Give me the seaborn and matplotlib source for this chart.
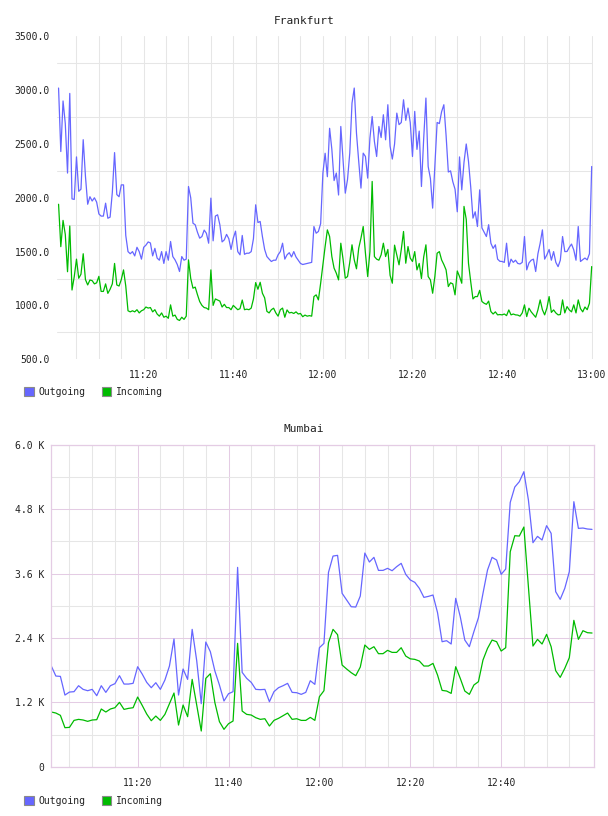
import matplotlib
matplotlib.use('Agg')
import numpy as np
import pandas as pd
import seaborn as sns
import matplotlib.pyplot as plt
import matplotlib.dates as mdates
from matplotlib.patches import Patch
from matplotlib.ticker import FixedLocator, FuncFormatter

# Frankfurt: one sample every 30 s, 11:01:00 -> 13:00:00
FRA_START = '2024-01-01 11:01:00'
fra_outgoing = [
    3020, 2430, 2900, 2690, 2230, 2970, 1990, 1985, 2380, 2060,
    2080, 2540, 2200, 1940, 2010, 1970, 2000, 1960, 1850, 1830,
    1830, 1950, 1810, 1820, 2050, 2420, 2030, 2010, 2120, 2120,
    1650, 1500, 1480, 1500, 1460, 1540, 1500, 1430, 1540, 1560,
    1590, 1580, 1460, 1530, 1440, 1420, 1500, 1390,
    1500, 1420, 1594, 1454, 1423, 1380, 1315, 1454, 1420, 1430,
    2105, 2000, 1764, 1749, 1680, 1625, 1640, 1700, 1670, 1578,
    1997, 1600, 1830, 1842, 1750, 1590, 1609, 1660, 1620, 1520,
    1625, 1690, 1500, 1470, 1650, 1475, 1485, 1485, 1500, 1620,
    1935, 1770, 1780, 1640, 1520, 1454, 1430, 1408,
    1420, 1420, 1470, 1500, 1578, 1430, 1470, 1490, 1450, 1500,
    1450, 1420, 1390, 1380, 1385, 1390, 1395, 1400, 1733, 1671,
    1687, 1760, 2228, 2414, 2196, 2646, 2450, 2160, 2230, 2026,
    2663, 2350, 2043, 2170, 2415, 2880, 3020, 2600, 2338, 2090,
    2415, 2384, 2183, 2555, 2756, 2524, 2384, 2663,
    2560, 2772, 2539, 2865, 2480, 2360, 2500, 2787, 2680, 2700,
    2911, 2720, 2834, 2700, 2384, 2803, 2450, 2620, 2105, 2550,
    2927, 2291, 2180, 1904, 2300, 2700, 2690, 2800, 2865, 2580,
    2240, 2250, 2150, 2080, 1870, 2380, 2074, 2330, 2500, 2340,
    2100, 1811, 1870, 1733, 2074, 1720, 1680, 1640, 1750,
    1578, 1530, 1563, 1430, 1410, 1408, 1400, 1578, 1361, 1430,
    1400, 1420, 1390, 1385, 1400, 1640, 1330, 1395, 1420, 1430,
    1315, 1480, 1578, 1702, 1430, 1470, 1520, 1420, 1500, 1400,
    1360, 1420, 1640, 1500, 1501, 1540, 1570, 1516, 1420, 1733,
    1408, 1425, 1440, 1423, 1480, 2291,
]
fra_incoming = [
    1940, 1546, 1790, 1660, 1313, 1738, 1143, 1267, 1430, 1252,
    1290, 1480, 1240, 1190, 1236, 1230, 1200, 1210, 1270, 1130,
    1130, 1200, 1112, 1150, 1200, 1390, 1190, 1180, 1240, 1330,
    1180, 950, 940, 950, 940, 960, 930, 950, 960, 985,
    975, 980, 940, 960, 920, 900, 930, 890,
    900, 880, 1005, 900, 910, 870, 860, 890, 870, 900,
    1423, 1250, 1160, 1170, 1100, 1036, 1000, 980, 975, 960,
    1330, 1000, 1060, 1050, 1040, 985, 1010, 980, 980, 960,
    1000, 980, 960, 970, 1050, 960, 965, 960, 975, 1060,
    1212, 1150, 1215, 1113, 1070, 945, 930, 960,
    974, 930, 900, 960, 975, 890, 958, 930, 935, 925,
    940, 920, 925, 895, 910, 900, 905, 900, 1082, 1098,
    1051, 1206, 1377, 1547, 1702, 1640, 1454, 1346, 1299, 1237,
    1578, 1430, 1253, 1268, 1400, 1563, 1423, 1340, 1532, 1625,
    1733, 1485, 1268, 1500, 2152, 1454, 1430, 1420,
    1470, 1578, 1454, 1520, 1280, 1206, 1560, 1470, 1377, 1520,
    1687, 1392, 1547, 1440, 1408, 1500, 1330, 1390, 1250, 1450,
    1563, 1268, 1237, 1113, 1270, 1485, 1500, 1423, 1380, 1330,
    1175, 1210, 1200, 1098, 1320, 1268, 1206, 1920, 1800, 1392,
    1220, 1060, 1082, 1082, 1140, 1036, 1020, 1010, 1040,
    943, 920, 940, 912, 915, 912, 920, 905, 958, 912,
    920, 912, 910, 900, 930, 1005, 896, 974, 940, 915,
    890, 958, 1051, 960, 912, 975, 1082, 935, 958, 930,
    912, 915, 1051, 930, 989, 958, 940, 1005, 930, 1051,
    970, 940, 985, 960, 1020, 1361,
]

# Mumbai: one sample per minute, 11:01 -> 13:00, values in K
MUM_START = '2024-01-01 11:01:00'
mum_outgoing = [
    1.876, 1.689, 1.683, 1.335, 1.391, 1.398, 1.509, 1.441, 1.416, 1.441,
    1.323, 1.509, 1.385, 1.509, 1.547, 1.696, 1.540, 1.540, 1.553, 1.863,
    1.727, 1.571, 1.472, 1.565, 1.441, 1.615, 1.876, 2.379, 1.335, 1.820,
    1.627, 2.559, 1.975, 1.174, 2.323, 2.143, 1.783, 1.522, 1.224, 1.360,
    1.398, 3.714, 1.758, 1.646, 1.571, 1.441, 1.435, 1.441, 1.211, 1.398,
    1.472, 1.509, 1.553, 1.385, 1.379, 1.348, 1.385, 1.602, 1.534, 2.217,
    2.298, 3.621, 3.925, 3.938, 3.230, 3.106, 2.981, 2.975, 3.180, 3.981,
    3.814, 3.901, 3.658, 3.658, 3.696, 3.652, 3.727, 3.789, 3.584, 3.480,
    3.435, 3.323, 3.155, 3.174, 3.199, 2.870, 2.329, 2.348, 2.286, 3.137,
    2.795, 2.360, 2.236, 2.516, 2.776, 3.230, 3.665, 3.901, 3.851, 3.584,
    3.683, 4.925, 5.211, 5.311, 5.497, 4.969, 4.174, 4.292, 4.224, 4.491,
    4.348, 3.261, 3.118, 3.323, 3.634, 4.938, 4.441, 4.447, 4.429, 4.422,
]
mum_incoming = [
    1.019, 1.000, 0.957, 0.727, 0.733, 0.863, 0.882, 0.870, 0.845, 0.870,
    0.876, 1.075, 1.019, 1.075, 1.099, 1.199, 1.068, 1.087, 1.099, 1.298,
    1.143, 0.981, 0.857, 0.944, 0.863, 0.975, 1.174, 1.373, 0.776, 1.149,
    0.932, 1.627, 1.149, 0.665, 1.646, 1.733, 1.193, 0.839, 0.696, 0.801,
    0.851, 2.298, 1.037, 0.975, 0.963, 0.913, 0.882, 0.894, 0.758, 0.863,
    0.901, 0.950, 1.000, 0.882, 0.894, 0.863, 0.863, 0.919, 0.863, 1.304,
    1.416, 2.311, 2.559, 2.460, 1.894, 1.820, 1.752, 1.696, 1.857, 2.267,
    2.186, 2.236, 2.106, 2.106, 2.168, 2.130, 2.130, 2.217, 2.062, 2.010,
    2.000, 1.969, 1.876, 1.876, 1.925, 1.708, 1.422, 1.410, 1.366, 1.863,
    1.646, 1.410, 1.348, 1.522, 1.584, 1.988, 2.205, 2.360, 2.329, 2.155,
    2.217, 4.006, 4.304, 4.298, 4.466, 3.350, 2.248, 2.373, 2.286, 2.466,
    2.236, 1.789, 1.665, 1.832, 2.031, 2.727, 2.373, 2.534, 2.497, 2.491,
]

SERIES = ['Outgoing', 'Incoming']
COLORS = {'Outgoing': '#6666ff', 'Incoming': '#00bb00'}

W, H = 608, 816
TEXT = '#222222'
GRID = '#e6e6e6'
PINK = '#e4cce4'


def frame(start, freq, outgoing, incoming):
    times = pd.date_range(start, periods=len(outgoing), freq=freq)
    return pd.concat([
        pd.DataFrame({'time': times, 'value': outgoing, 'series': 'Outgoing'}),
        pd.DataFrame({'time': times, 'value': incoming, 'series': 'Incoming'}),
    ], ignore_index=True)


def at(hh, mm, ss=0):
    return pd.Timestamp('2024-01-01') + pd.Timedelta(hours=hh, minutes=mm, seconds=ss)


def px_axes(fig, left, top, right, bottom):
    return fig.add_axes([left / W, 1 - bottom / H, (right - left) / W, (bottom - top) / H])


def add_legend(ax, fig, y_px):
    handles = [Patch(facecolor=COLORS[s], edgecolor='#8a8a8a', linewidth=0.8, label=s)
               for s in SERIES]
    ax.legend(handles=handles, loc='center left', bbox_to_anchor=(24 / W, 1 - y_px / H),
              bbox_transform=fig.transFigure, ncol=2, frameon=False,
              handlelength=1.0, handleheight=1.0, handletextpad=0.5,
              columnspacing=1.65, borderpad=0, borderaxespad=0,
              prop={'size': 7}, labelcolor=TEXT)


def draw(ax, df):
    sns.lineplot(data=df, x='time', y='value', hue='series', hue_order=SERIES,
                 palette=COLORS, estimator=None, errorbar=None, legend=False,
                 linewidth=0.9, ax=ax)
    ax.set_xlabel('')
    ax.set_ylabel('')
    ax.set_axisbelow(True)
    ax.tick_params(which='both', length=0, labelsize=7, labelcolor=TEXT)
    ax.tick_params(axis='x', pad=7.5)
    ax.xaxis.set_major_formatter(mdates.DateFormatter('%H:%M'))


sns.set_style('white')
plt.rcParams['font.family'] = ['DejaVu Sans Mono']

fig = plt.figure(figsize=(W / 100, H / 100), dpi=100)

# --- Frankfurt ---
fra = frame(FRA_START, '30s', fra_outgoing, fra_incoming)
ax1 = px_axes(fig, 57, 36.4, 592.8, 359.2)
draw(ax1, fra)
ax1.set_xlim(at(11, 0, 39), at(13, 0, 15))
ax1.set_ylim(500, 3500)
ax1.xaxis.set_major_locator(FixedLocator(mdates.date2num(
    [at(11, 20), at(11, 40), at(12, 0), at(12, 20), at(12, 40), at(13, 0)])))
ax1.xaxis.set_minor_locator(FixedLocator(mdates.date2num(
    [at(11, 0) + pd.Timedelta(minutes=5 * i) for i in range(1, 25)])))
ax1.yaxis.set_major_locator(FixedLocator(np.arange(500, 3501, 500)))
ax1.yaxis.set_minor_locator(FixedLocator(np.arange(750, 3500, 500)))
ax1.yaxis.set_major_formatter(FuncFormatter(lambda v, p: f'{v:.1f}'))
ax1.tick_params(axis='y', pad=5)
ax1.xaxis.grid(True, which='both', color=GRID, linewidth=0.75)
ax1.yaxis.grid(True, which='minor', color=GRID, linewidth=0.75)
ax1.yaxis.grid(False, which='major')
for s in ax1.spines.values():
    s.set_visible(False)
fig.text(0.5, 1 - 20.7 / H, 'Frankfurt', ha='center', va='center', fontsize=8, color=TEXT)
add_legend(ax1, fig, 392)

# --- Mumbai ---
mum = frame(MUM_START, '1min', mum_outgoing, mum_incoming)
ax2 = px_axes(fig, 50.7, 444.7, 594, 766.7)
draw(ax2, mum)
ax2.set_xlim(at(11, 0, 52), at(13, 0, 26))
ax2.set_ylim(0, 6.0)
ax2.xaxis.set_major_locator(FixedLocator(mdates.date2num(
    [at(11, 20), at(11, 40), at(12, 0), at(12, 20), at(12, 40)])))
ax2.xaxis.set_minor_locator(FixedLocator(mdates.date2num(
    [at(11, 0) + pd.Timedelta(minutes=5 * i) for i in range(1, 24)])))
ax2.yaxis.set_major_locator(FixedLocator(np.arange(0, 6.01, 1.2)))
ax2.yaxis.set_minor_locator(FixedLocator(np.arange(0.6, 6.0, 1.2)))
ax2.yaxis.set_major_formatter(FuncFormatter(lambda v, p: '0' if v == 0 else f'{v:.1f} K'))
ax2.tick_params(axis='y', pad=4.6)
ax2.tick_params(axis='x', pad=8)
ax2.grid(True, which='minor', color=GRID, linewidth=0.75)
ax2.grid(True, which='major', color=PINK, linewidth=0.75)
for s in ax2.spines.values():
    s.set_visible(True)
    s.set_color(PINK)
    s.set_linewidth(0.9)
fig.text(0.5, 1 - 429 / H, 'Mumbai', ha='center', va='center', fontsize=8, color=TEXT)
add_legend(ax2, fig, 801)

fig.savefig('out.png', dpi=100)
